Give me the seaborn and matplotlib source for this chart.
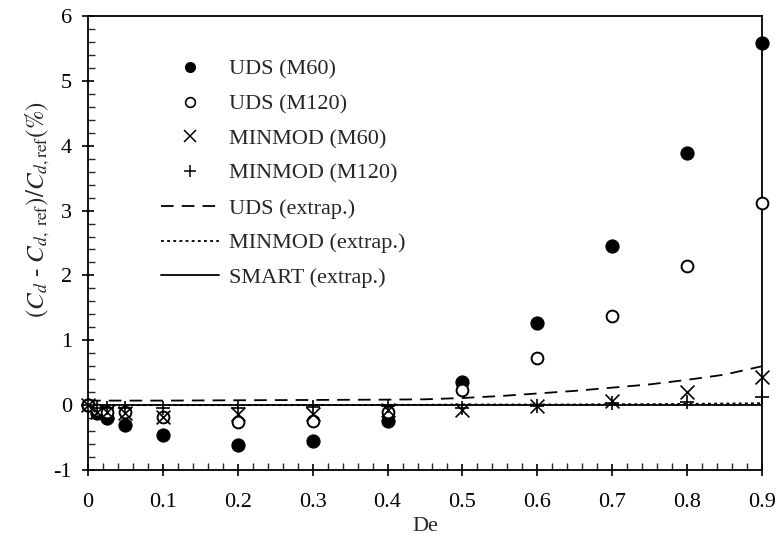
import matplotlib
matplotlib.use("Agg")
import matplotlib.pyplot as plt
import seaborn as sns
import pandas as pd
from matplotlib.lines import Line2D
from matplotlib.ticker import MultipleLocator

# ---- data ----
de_pts = [0, 0.0125, 0.025, 0.05, 0.1, 0.2, 0.3, 0.4, 0.5, 0.6, 0.7, 0.8, 0.9]
uds_m60 = [0.0, -0.12, -0.2, -0.3, -0.46, -0.62, -0.55, -0.25, 0.35, 1.27, 2.46, 3.89, 5.59]
uds_m120 = [0.0, -0.08, -0.1, -0.1, -0.19, -0.26, -0.25, -0.1, 0.23, 0.73, 1.37, 2.15, 3.12]
minmod_m60 = [0.0, -0.1, -0.1, -0.12, -0.19, -0.14, -0.13, -0.07, -0.08, -0.02, 0.07, 0.2, 0.43]
minmod_m120 = [0.0, -0.05, -0.05, -0.04, -0.04, -0.04, -0.03, -0.01, -0.04, -0.01, 0.03, 0.05, 0.12]

ext_de = [0, 0.1, 0.2, 0.3, 0.4, 0.45, 0.5, 0.55, 0.6, 0.65, 0.7, 0.75, 0.8, 0.85, 0.9]
uds_ext = [0.07, 0.07, 0.075, 0.08, 0.085, 0.09, 0.11, 0.14, 0.18, 0.22, 0.27, 0.32, 0.39, 0.47, 0.6]
minmod_ext = [0.0, 0.0, 0.0, 0.0, 0.005, 0.005, 0.01, 0.01, 0.01, 0.01, 0.015, 0.015, 0.02, 0.025, 0.03]
smart_ext = [0.0] * len(ext_de)

labels = ["UDS (M60)", "UDS (M120)", "MINMOD (M60)", "MINMOD (M120)",
          "UDS (extrap.)", "MINMOD (extrap.)", "SMART (extrap.)"]
xtick_labels = ["0", "0.1", "0.2", "0.3", "0.4", "0.5", "0.6", "0.7", "0.8", "0.9"]
ytick_labels = ["-1", "0", "1", "2", "3", "4", "5", "6"]

# ---- style ----
sns.set_style("ticks")
plt.rcParams["font.family"] = ["Liberation Serif", "DejaVu Serif"]
plt.rcParams["mathtext.fontset"] = "stix"

fig = plt.figure(figsize=(7.78, 5.44), dpi=100)
ax = fig.add_axes([88 / 778, 1 - 470 / 544, (762 - 88) / 778, (470 - 16) / 544])

pts = pd.DataFrame({"De": de_pts, "uds60": uds_m60, "uds120": uds_m120,
                    "mm60": minmod_m60, "mm120": minmod_m120})
ext = pd.DataFrame({"De": ext_de, "uds": uds_ext, "mm": minmod_ext, "smart": smart_ext})

lw = 1.3
dash = (0, (7, 4.5))
dot = (0, (1.6, 1.8))
sns.lineplot(data=ext, x="De", y="smart", ax=ax, color="black", lw=lw, linestyle="-")
sns.lineplot(data=ext, x="De", y="mm", ax=ax, color="black", lw=lw, linestyle=dot)
sns.lineplot(data=ext, x="De", y="uds", ax=ax, color="black", lw=lw, linestyle=dash)

ms = 90
sns.scatterplot(data=pts, x="De", y="uds60", ax=ax, marker="o", s=ms, color="black",
                edgecolor="black", zorder=5, clip_on=False)
sns.scatterplot(data=pts, x="De", y="uds120", ax=ax, marker="o", s=ms * 0.8,
                facecolor="white", edgecolor="black", linewidth=1.4, zorder=6, clip_on=False)
sns.scatterplot(data=pts, x="De", y="mm60", ax=ax, marker="x", s=ms * 1.1, color="black",
                linewidth=1.2, zorder=7, clip_on=False)
sns.scatterplot(data=pts, x="De", y="mm120", ax=ax, marker="+", s=ms * 1.1, color="black",
                linewidth=1.2, zorder=7, clip_on=False)

ax.set_xlim(0, 0.9)
ax.set_ylim(-1, 6)
ax.set_xticks([0, 0.1, 0.2, 0.3, 0.4, 0.5, 0.6, 0.7, 0.8, 0.9])
ax.set_xticklabels(xtick_labels)
ax.set_yticks(range(-1, 7))
ax.set_yticklabels(ytick_labels)
ax.xaxis.set_minor_locator(MultipleLocator(0.02))
ax.yaxis.set_minor_locator(MultipleLocator(0.2))
ax.tick_params(which="major", direction="inout", length=9, width=1.2, labelsize=16,
               colors="black")
ax.tick_params(axis="x", which="major", pad=12)
ax.tick_params(axis="y", which="major", pad=7)
ax.tick_params(which="minor", direction="in", length=5, width=1.0)
for s in ax.spines.values():
    s.set_linewidth(1.3)
    s.set_color("black")

ax.set_xlabel("De", fontsize=16, labelpad=4)
ax.set_ylabel(r"$(C_d$ - $C_{d,\ \mathrm{ref}})/C_{d,\mathrm{ref}}(\%)$", fontsize=18)
ax.yaxis.set_label_coords(-0.053, 0.573)

handles = [
    Line2D([], [], marker="o", color="black", linestyle="none", markersize=7),
    Line2D([], [], marker="o", markerfacecolor="white", markeredgecolor="black",
           linestyle="none", markersize=7, markeredgewidth=1.2),
    Line2D([], [], marker="x", color="black", linestyle="none", markersize=8, markeredgewidth=1.1),
    Line2D([], [], marker="+", color="black", linestyle="none", markersize=9, markeredgewidth=1.1),
    Line2D([], [], color="black", lw=lw, linestyle=dash),
    Line2D([], [], color="black", lw=lw, linestyle=dot),
    Line2D([], [], color="black", lw=lw, linestyle="-"),
]
ax.legend(handles, labels, loc="upper left", bbox_to_anchor=(161 / 778, 1 - 59 / 544),
          bbox_transform=fig.transFigure, frameon=False, fontsize=16,
          handlelength=2.6, handletextpad=0.45, labelspacing=0.64, borderaxespad=0,
          borderpad=0)

fig.savefig("out.png", dpi=100)
